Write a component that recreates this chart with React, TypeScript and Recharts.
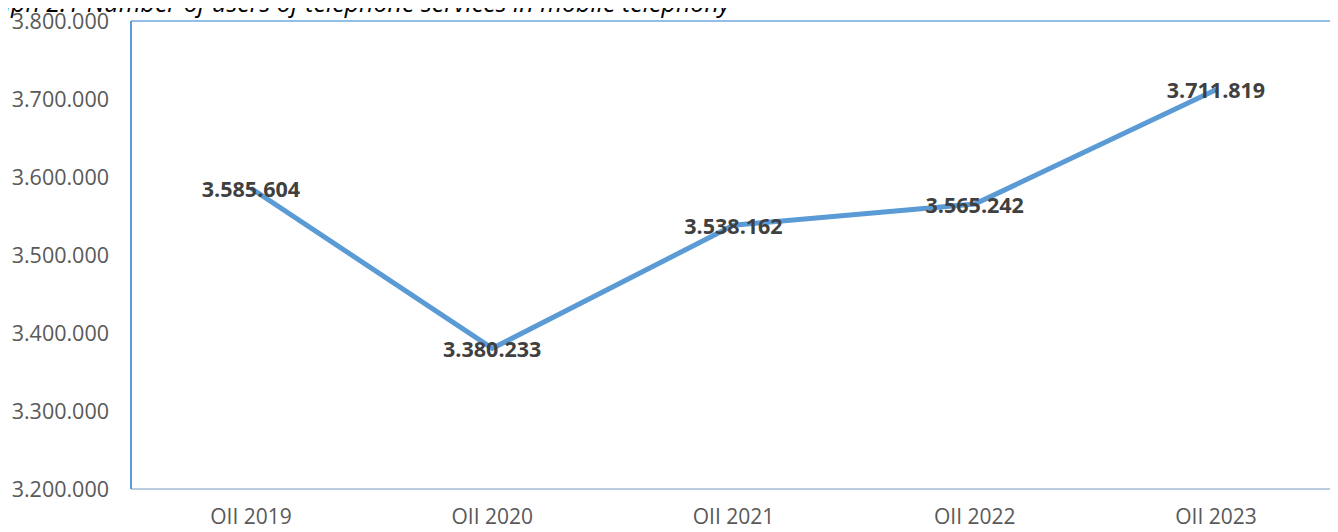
import React from "react";
import { LineChart, Line, XAxis, YAxis, LabelList } from "recharts";

const categories = ["QII 2019", "QII 2020", "QII 2021", "QII 2022", "QII 2023"];
const users = [3585604, 3380233, 3538162, 3565242, 3711819];
const yTicks = [3200000, 3300000, 3400000, 3500000, 3600000, 3700000, 3800000];
const title = "Graph 2.1 Number of users of telephone services in mobile telephony";

const data = categories.map((c, i) => ({ name: c, value: users[i] }));

const fmt = (v: number) => v.toString().replace(/\B(?=(\d{3})+(?!\d))/g, ".");

const FONT = "'Open Sans', sans-serif";

const renderLabel = (props: any) => {
  const { x, y, value } = props;
  return (
    <text
      x={x}
      y={y}
      textAnchor="middle"
      dominantBaseline="central"
      fontFamily={FONT}
      fontWeight={700}
      fontSize={21.5}
      fill="#404040"
    >
      {fmt(value)}
    </text>
  );
};

export default function App() {
  return (
    <div style={{ margin: -8, width: 1338, height: 532, position: "relative", overflow: "hidden", background: "#fff" }}>
      <div
        style={{
          position: "absolute",
          left: -30,
          top: -6,
          fontFamily: FONT,
          fontStyle: "italic",
          fontSize: 25,
          lineHeight: "16px",
          color: "#000",
          whiteSpace: "nowrap",
        }}
      >
        {title}
      </div>
      <LineChart width={1338} height={532} data={data} margin={{ top: 20, right: 1, left: 0, bottom: 0 }}>
        <XAxis
          dataKey="name"
          height={43}
          padding={{ left: 120, right: 120 }}
          axisLine={{ stroke: "#BCCCE0", strokeWidth: 2 }}
          tickLine={false}
          tickSize={0}
          tickMargin={20}
          tick={{ fill: "#595959", fontFamily: FONT, fontSize: 21 }}
          interval={0}
        />
        <XAxis
          xAxisId="top"
          orientation="top"
          dataKey="name"
          padding={{ left: 120, right: 120 }}
          axisLine={{ stroke: "#6FA8DC", strokeWidth: 1.5 }}
          tick={false}
          tickLine={false}
          height={1}
        />
        <YAxis
          domain={[3200000, 3800000]}
          ticks={yTicks}
          tickFormatter={fmt}
          width={131}
          axisLine={{ stroke: "#5B9BD5", strokeWidth: 2 }}
          tickLine={false}
          tickSize={0}
          tickMargin={22}
          tick={{ fill: "#595959", fontFamily: FONT, fontSize: 21.5 }}
          interval={0}
        />
        <YAxis
          yAxisId="right"
          orientation="right"
          domain={[3200000, 3800000]}
          axisLine={{ stroke: "#5B9BD5", strokeWidth: 2 }}
          tick={false}
          tickLine={false}
          width={1}
        />
        <Line
          type="linear"
          dataKey="value"
          stroke="#5B9BD5"
          strokeWidth={5}
          dot={false}
          activeDot={false}
          isAnimationActive={false}
        >
          <LabelList dataKey="value" content={renderLabel} />
        </Line>
      </LineChart>
    </div>
  );
}
